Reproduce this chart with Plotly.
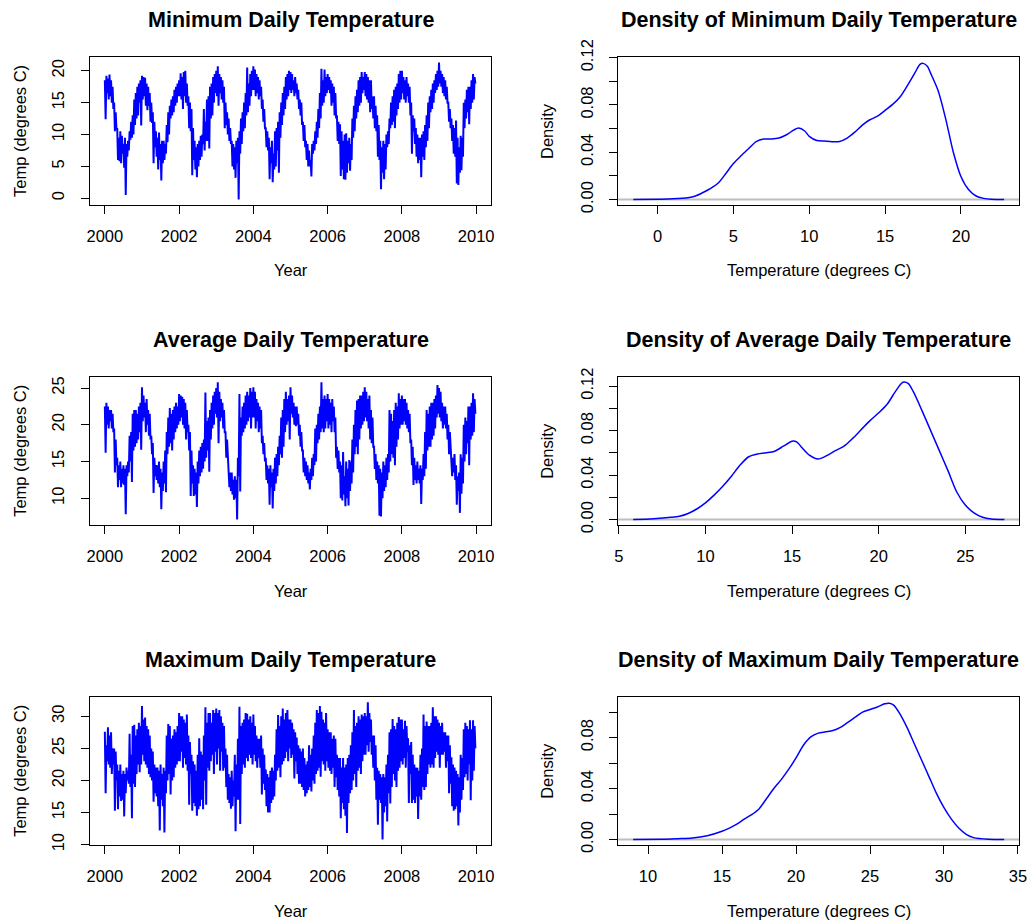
import numpy as np
import plotly.graph_objects as go

# ---------------- data ----------------
years = [2000, 2001, 2002, 2003, 2004, 2005, 2006, 2007, 2008, 2009]
samples_per_year = 48  # 4 readings per month

# Minimum daily temperature (degrees C), 4 readings per month, Jan..Dec
tmin = [
    # 2000
    18.5, 12.4, 19.2, 16.5, 18.8, 15.5, 19.4, 16.0, 18.5, 15.0, 17.5, 14.0,
    15.0, 10.5, 13.5, 10.8, 11.0, 6.0, 9.5, 5.8, 10.5, 5.5, 9.8, 7.0,
    8.5, 4.8, 9.5, 0.5, 8.5, 6.5, 9.0, 7.5, 10.5, 9.2, 12.0, 9.5,
    13.0, 10.0, 15.5, 11.5, 16.5, 12.5, 17.5, 13.0, 18.0, 15.0, 18.5, 11.4,
    # 2001
    19.2, 15.5, 19.0, 16.0, 18.9, 14.5, 18.0, 13.8, 17.5, 14.5, 16.5, 12.0,
    15.0, 11.8, 13.5, 5.5, 12.0, 8.0, 10.5, 6.5, 9.5, 4.5, 10.3, 6.0,
    8.5, 2.8, 9.0, 5.5, 9.0, 6.0, 8.5, 7.0, 11.5, 8.8, 13.5, 10.0,
    14.5, 12.5, 15.5, 13.0, 16.0, 13.5, 17.0, 14.5, 17.5, 15.0, 18.0, 16.0,
    # 2002
    18.5, 16.0, 19.6, 15.5, 19.0, 14.0, 19.8, 16.0, 20.0, 15.0, 18.0, 14.5,
    16.0, 11.0, 15.0, 10.5, 14.0, 3.6, 11.0, 6.0, 9.0, 4.5, 8.0, 3.3,
    8.5, 5.0, 9.0, 6.0, 9.8, 6.5, 10.0, 8.5, 14.0, 7.5, 12.0, 9.0,
    15.5, 9.0, 16.0, 7.8, 17.5, 12.5, 18.0, 13.0, 19.0, 15.0, 19.5, 16.5,
    # 2003
    20.0, 16.0, 20.7, 14.5, 19.5, 16.5, 19.0, 15.5, 18.5, 15.0, 17.5, 11.0,
    15.0, 11.5, 13.5, 10.0, 12.5, 9.0, 11.0, 8.5, 9.0, 5.0, 8.5, 4.5,
    8.0, 3.2, 9.0, 5.5, 9.5, -0.2, 10.5, 7.0, 12.5, 8.5, 13.5, 10.5,
    15.0, 11.0, 16.5, 13.0, 20.5, 13.5, 18.0, 14.5, 19.5, 16.0, 20.0, 17.0,
    # 2004
    20.7, 17.0, 20.2, 16.0, 19.5, 16.5, 19.0, 15.5, 18.5, 16.0, 17.5, 14.0,
    15.5, 12.0, 14.0, 11.0, 11.0, 8.0, 10.5, 7.5, 9.5, 3.0, 8.0, 5.5,
    9.0, 2.5, 7.0, 4.5, 10.5, 5.0, 11.0, 7.5, 12.0, 4.0, 13.5, 9.5,
    15.0, 11.5, 16.5, 13.0, 17.5, 14.0, 19.0, 15.5, 19.5, 16.0, 20.0, 17.0,
    # 2005
    19.8, 16.5, 19.5, 17.0, 18.5, 16.0, 19.0, 16.5, 18.0, 15.5, 17.0, 14.0,
    15.5, 13.0, 15.0, 11.5, 12.0, 9.0, 11.5, 8.0, 9.0, 6.0, 8.5, 5.0,
    7.5, 5.0, 6.0, 3.4, 8.5, 7.0, 9.0, 7.5, 10.5, 8.5, 12.0, 9.5,
    14.0, 11.0, 16.5, 12.5, 20.3, 14.5, 18.5, 15.0, 20.2, 16.0, 19.0, 16.5,
    # 2006
    19.5, 17.0, 19.0, 16.5, 18.5, 14.5, 18.0, 15.0, 17.5, 13.0, 16.5, 12.5,
    13.0, 9.0, 12.0, 8.5, 11.6, 3.5, 10.5, 4.5, 9.0, 3.0, 10.0, 2.9,
    10.2, 4.0, 9.0, 5.5, 9.5, 4.3, 8.5, 6.0, 12.5, 9.5, 14.5, 10.5,
    16.0, 12.5, 17.0, 13.5, 18.5, 14.5, 19.0, 15.0, 19.8, 16.5, 19.0, 17.0,
    # 2007
    19.8, 16.0, 19.5, 15.5, 19.0, 15.0, 18.5, 13.5, 18.5, 14.0, 16.0, 12.5,
    16.0, 11.0, 14.5, 10.5, 13.0, 6.5, 11.5, 6.0, 9.0, 1.4, 8.0, 4.0,
    9.0, 3.0, 8.5, 4.5, 10.0, 8.0, 10.5, 8.5, 12.5, 11.0, 15.0, 11.5,
    16.0, 12.0, 17.0, 11.0, 17.5, 13.0, 18.0, 14.0, 19.5, 15.0, 20.0, 15.5,
    # 2008
    20.0, 16.5, 19.0, 15.5, 18.5, 15.0, 19.0, 16.0, 18.0, 15.0, 17.5, 13.0,
    15.0, 7.0, 13.0, 10.5, 12.5, 8.5, 11.0, 6.5, 10.0, 5.5, 9.5, 6.0,
    9.5, 3.3, 10.0, 6.5, 10.5, 6.0, 11.5, 8.0, 13.0, 9.0, 15.0, 11.0,
    16.0, 13.5, 17.0, 14.0, 18.0, 15.0, 18.5, 16.5, 19.5, 17.0, 20.0, 17.5,
    # 2009
    21.3, 18.0, 20.0, 17.5, 19.5, 16.5, 19.0, 16.0, 18.5, 15.5, 17.5, 15.0,
    15.0, 12.0, 14.0, 11.0, 12.5, 9.0, 11.5, 7.0, 11.0, 6.5, 12.2, 2.3,
    9.5, 2.1, 8.0, 4.0, 9.8, 4.4, 9.5, 6.5, 15.0, 11.0, 15.5, 12.5,
    17.0, 13.5, 17.5, 11.6, 17.5, 14.0, 18.5, 15.0, 19.5, 15.5, 19.0, 18.0,
]

# Average daily temperature (degrees C)
tavg = [
    # 2000
    22.5, 16.2, 23.0, 20.0, 22.5, 19.5, 22.0, 20.5, 22.0, 19.5, 21.5, 19.0,
    19.5, 13.5, 18.0, 14.5, 15.5, 11.5, 14.5, 12.5, 15.0, 11.5, 14.0, 12.0,
    14.5, 11.8, 14.0, 7.8, 14.5, 13.0, 15.0, 13.5, 18.5, 15.0, 19.0, 12.2,
    21.5, 16.5, 22.0, 17.0, 22.0, 17.5, 21.5, 18.0, 22.5, 19.0, 23.0, 16.6,
    # 2001
    25.1, 20.5, 24.0, 21.0, 23.0, 19.0, 23.5, 20.0, 22.0, 18.5, 21.5, 18.0,
    18.5, 16.0, 17.5, 10.7, 15.5, 13.0, 14.5, 12.5, 14.5, 12.0, 15.0, 11.5,
    14.0, 8.5, 13.5, 11.0, 15.0, 12.0, 16.5, 10.8, 19.0, 16.0, 21.0, 17.0,
    22.3, 17.5, 21.5, 16.5, 22.0, 18.0, 22.5, 19.0, 23.0, 19.5, 22.5, 20.0,
    # 2002
    24.2, 20.5, 24.0, 21.0, 23.8, 20.0, 23.5, 19.5, 23.0, 18.0, 22.0, 19.0,
    20.0, 16.5, 19.0, 10.3, 16.5, 12.0, 14.5, 10.3, 14.0, 10.5, 13.5, 8.8,
    15.0, 12.0, 16.5, 13.0, 17.0, 13.5, 17.5, 14.0, 18.0, 15.0, 24.4, 15.5,
    20.5, 16.5, 21.0, 13.6, 22.0, 18.0, 23.0, 19.5, 24.0, 20.0, 24.5, 21.5,
    # 2003
    25.0, 21.0, 25.8, 17.5, 24.5, 20.5, 23.5, 21.0, 23.0, 19.5, 22.0, 19.0,
    19.0, 15.5, 18.0, 15.0, 14.5, 11.5, 13.5, 11.0, 13.5, 10.5, 12.5, 9.8,
    13.0, 10.0, 12.5, 7.1, 15.5, 13.0, 24.2, 10.9, 21.0, 18.5, 22.5, 19.0,
    23.0, 19.5, 24.0, 20.0, 24.5, 20.5, 24.0, 21.0, 25.0, 19.5, 24.5, 21.0,
    # 2004
    25.1, 21.0, 24.5, 19.5, 23.5, 20.5, 23.0, 19.0, 22.5, 19.5, 22.0, 17.5,
    18.5, 16.0, 17.5, 15.0, 15.5, 12.5, 14.5, 12.0, 14.0, 9.1, 14.5, 11.5,
    13.5, 8.6, 14.0, 11.0, 15.5, 12.0, 16.0, 13.0, 17.0, 14.5, 18.5, 16.0,
    21.0, 15.5, 22.0, 17.0, 23.5, 19.0, 24.5, 20.0, 23.5, 20.5, 24.0, 18.0,
    # 2005
    25.1, 21.5, 24.0, 21.0, 23.0, 20.0, 22.5, 19.8, 22.5, 20.0, 21.5, 18.5,
    20.0, 17.0, 19.0, 16.5, 16.5, 13.5, 15.5, 13.0, 15.0, 12.5, 14.5, 12.0,
    13.5, 11.2, 14.0, 12.5, 15.5, 13.0, 16.0, 14.5, 19.5, 15.0, 20.0, 17.5,
    21.5, 18.0, 22.5, 19.0, 25.8, 19.5, 23.5, 19.0, 24.0, 19.5, 23.5, 20.5,
    # 2006
    24.2, 19.5, 23.5, 20.0, 23.0, 19.0, 23.5, 20.5, 22.5, 19.0, 21.0, 15.5,
    17.0, 14.0, 16.5, 13.5, 15.0, 10.0, 14.5, 9.7, 16.3, 10.5, 13.0, 8.9,
    15.0, 10.0, 14.0, 9.0, 15.2, 11.0, 15.0, 12.0, 18.0, 13.5, 20.0, 16.0,
    22.0, 17.0, 23.3, 16.0, 23.5, 18.0, 24.0, 19.5, 24.0, 20.0, 24.5, 20.5,
    # 2007
    25.1, 21.0, 24.5, 20.5, 23.5, 19.5, 24.0, 18.0, 22.0, 17.5, 21.0, 17.0,
    17.0, 14.0, 16.0, 12.5, 15.0, 12.0, 14.5, 7.6, 14.0, 7.5, 13.5, 10.0,
    15.0, 11.0, 14.5, 11.5, 15.5, 12.5, 16.0, 13.5, 22.0, 15.0, 21.5, 16.0,
    20.5, 15.5, 22.0, 14.5, 23.0, 17.0, 22.5, 18.0, 24.3, 19.5, 23.5, 20.0,
    # 2008
    24.0, 20.0, 23.5, 20.5, 23.5, 20.0, 23.0, 19.5, 22.0, 19.0, 21.5, 17.5,
    18.0, 14.5, 17.0, 11.8, 15.5, 12.5, 14.5, 12.0, 15.0, 12.5, 14.0, 12.0,
    14.5, 9.2, 14.0, 12.5, 16.0, 13.0, 19.0, 14.0, 22.0, 16.5, 21.5, 17.0,
    22.5, 17.0, 23.0, 18.0, 23.0, 18.5, 23.5, 19.5, 24.0, 21.0, 25.4, 21.5,
    # 2009
    25.0, 21.0, 24.5, 20.5, 23.0, 19.5, 22.5, 20.0, 22.5, 19.5, 21.5, 18.0,
    20.0, 16.0, 19.0, 16.5, 16.0, 13.0, 15.5, 13.5, 16.0, 12.5, 14.5, 9.1,
    13.0, 11.0, 13.5, 8.0, 16.0, 10.6, 15.5, 12.0, 20.0, 15.0, 21.0, 16.0,
    20.5, 17.5, 22.5, 14.5, 22.5, 18.0, 23.0, 18.5, 24.3, 19.0, 23.5, 21.5,
]

# Maximum daily temperature (degrees C)
tmax = [
    # 2000
    27.6, 18.0, 25.5, 23.0, 28.3, 22.5, 27.0, 22.0, 27.5, 21.0, 25.0, 22.5,
    25.0, 15.3, 24.5, 20.0, 22.5, 15.5, 21.5, 17.5, 22.5, 16.8, 21.0, 17.0,
    21.5, 14.4, 21.0, 18.0, 22.0, 20.0, 21.5, 19.5, 27.3, 19.0, 24.0, 14.1,
    28.5, 19.5, 28.7, 19.0, 27.0, 21.0, 28.0, 22.5, 29.0, 21.3, 28.5, 22.5,
    # 2001
    31.6, 24.0, 29.5, 23.0, 29.8, 22.5, 28.5, 22.0, 28.0, 21.0, 27.0, 20.5,
    25.0, 20.0, 24.5, 16.7, 22.5, 18.0, 22.0, 17.5, 22.0, 16.0, 21.5, 12.2,
    22.5, 17.0, 21.0, 16.0, 22.0, 11.9, 21.5, 18.0, 27.0, 20.0, 28.8, 21.0,
    28.5, 17.8, 26.5, 20.0, 27.0, 20.5, 28.0, 22.0, 27.5, 22.5, 28.5, 23.0,
    # 2002
    30.5, 23.0, 30.0, 24.5, 30.0, 22.0, 29.5, 23.5, 29.0, 22.5, 30.3, 21.5,
    27.0, 16.2, 26.0, 21.0, 24.0, 15.3, 23.0, 16.5, 22.5, 16.0, 21.5, 14.5,
    24.0, 15.5, 26.6, 16.0, 24.5, 17.0, 24.0, 15.5, 27.0, 20.0, 31.4, 16.2,
    29.0, 22.0, 30.5, 21.5, 30.5, 23.0, 29.0, 24.0, 31.0, 21.0, 30.5, 24.5,
    # 2003
    31.2, 22.5, 30.5, 25.0, 31.0, 21.5, 30.0, 24.5, 29.0, 21.5, 28.5, 22.0,
    25.0, 19.0, 24.0, 17.0, 21.0, 16.5, 20.5, 15.6, 21.5, 16.0, 20.0, 17.5,
    24.0, 12.1, 22.5, 17.0, 26.5, 17.0, 31.5, 13.2, 28.5, 21.0, 29.0, 22.5,
    29.5, 22.0, 30.5, 23.5, 30.4, 23.0, 29.5, 24.0, 30.0, 23.5, 29.0, 22.5,
    # 2004
    30.3, 24.0, 28.5, 23.0, 27.0, 22.0, 26.5, 23.5, 26.5, 22.0, 27.0, 17.8,
    25.0, 19.5, 24.0, 18.5, 21.7, 16.0, 21.0, 15.0, 20.5, 15.0, 21.5, 16.5,
    22.0, 17.0, 21.5, 17.5, 24.0, 20.0, 28.0, 21.5, 30.2, 22.0, 28.5, 20.5,
    30.0, 22.5, 31.2, 23.0, 29.5, 23.5, 30.5, 24.5, 31.0, 23.0, 29.5, 25.0,
    # 2005
    29.5, 23.5, 29.0, 24.0, 28.0, 20.3, 27.5, 23.0, 26.7, 21.0, 25.5, 19.5,
    25.0, 19.5, 24.5, 19.0, 25.0, 18.5, 23.5, 17.5, 22.5, 18.0, 23.0, 18.5,
    25.5, 19.0, 24.0, 18.3, 25.0, 20.0, 27.0, 19.5, 29.0, 21.0, 31.0, 21.5,
    30.5, 22.0, 31.6, 20.6, 30.7, 23.0, 29.5, 22.5, 29.0, 21.5, 30.5, 23.0,
    # 2006
    28.0, 22.0, 27.5, 21.5, 27.5, 21.0, 26.5, 22.0, 27.0, 19.0, 26.5, 20.5,
    24.0, 18.5, 23.5, 17.5, 23.5, 14.1, 22.0, 16.5, 23.5, 15.5, 22.0, 14.5,
    22.5, 11.8, 23.5, 16.5, 24.0, 18.0, 25.5, 18.5, 27.5, 20.0, 31.0, 21.0,
    28.5, 19.0, 29.0, 21.5, 30.0, 22.0, 29.5, 21.0, 30.3, 23.0, 30.0, 24.0,
    # 2007
    30.5, 24.0, 30.0, 25.5, 32.2, 24.5, 30.5, 26.0, 29.5, 24.0, 27.0, 22.0,
    27.0, 20.0, 25.5, 17.0, 22.0, 13.1, 21.5, 17.0, 21.0, 16.5, 20.5, 10.8,
    21.0, 15.0, 20.5, 16.0, 22.5, 13.6, 24.0, 18.0, 27.5, 16.4, 28.0, 19.0,
    29.6, 21.0, 28.5, 20.0, 28.0, 19.0, 29.0, 21.5, 29.9, 22.0, 29.5, 23.0,
    # 2008
    29.5, 22.5, 28.0, 23.5, 29.3, 22.0, 28.5, 24.5, 26.6, 16.5, 25.5, 21.0,
    26.0, 16.5, 24.0, 17.0, 22.5, 16.5, 22.0, 17.5, 22.0, 14.0, 21.5, 17.5,
    24.0, 17.0, 25.0, 19.0, 30.3, 18.5, 28.5, 19.0, 29.2, 21.0, 28.5, 22.5,
    28.5, 22.0, 29.0, 22.5, 31.4, 22.0, 30.0, 23.5, 30.0, 24.5, 29.5, 24.0,
    # 2009
    29.0, 22.0, 28.5, 24.0, 29.0, 24.0, 27.5, 24.5, 27.5, 22.0, 27.0, 23.0,
    27.0, 18.0, 25.5, 19.5, 23.6, 16.0, 22.5, 15.3, 22.0, 15.5, 21.5, 16.0,
    21.0, 13.0, 20.5, 15.0, 24.0, 17.0, 23.5, 18.5, 28.0, 20.5, 29.0, 21.0,
    28.5, 20.0, 28.0, 22.5, 29.4, 16.9, 28.0, 20.0, 29.4, 21.5, 28.5, 25.0,
]

# Kernel density curves
dmin_x = [-1.6, 0, 1, 2, 2.5, 3, 3.5, 4, 4.5, 5, 5.5, 6, 6.5, 7, 7.5, 8, 8.5, 9, 9.3,
          9.7, 10, 10.5, 11, 11.5, 12, 12.5, 13, 13.5, 14, 14.5, 15, 15.5, 16, 16.5,
          17, 17.3, 17.5, 17.8, 18, 18.5, 19, 19.5, 20, 20.5, 21, 21.5, 22, 22.85]
dmin_y = [0.0, 0.0003, 0.0006, 0.0015, 0.003, 0.006, 0.0095, 0.014, 0.022, 0.0305,
          0.037, 0.043, 0.049, 0.0512, 0.0512, 0.052, 0.0548, 0.059, 0.0605,
          0.058, 0.0535, 0.0500, 0.0495, 0.0490, 0.0492, 0.052, 0.057, 0.063, 0.0675,
          0.0705, 0.0755, 0.0805, 0.087, 0.097, 0.108, 0.1143, 0.1152, 0.1125, 0.107,
          0.092, 0.068, 0.040, 0.0195, 0.0085, 0.003, 0.001, 0.0002, 0.0]

davg_x = [5.83, 7, 8, 8.5, 9, 9.5, 10, 10.5, 11, 11.5, 12, 12.5, 13, 13.5, 14, 14.5,
          15, 15.3, 15.5, 16, 16.5, 17, 17.5, 18, 18.5, 19, 19.5, 20, 20.5, 21, 21.4,
          21.7, 22, 22.5, 23, 23.5, 24, 24.5, 25, 25.5, 26, 26.5, 27.26]
davg_y = [0.0, 0.0008, 0.002, 0.003, 0.0055, 0.0095, 0.015, 0.022, 0.030, 0.039,
          0.049, 0.0565, 0.059, 0.060, 0.0615, 0.066, 0.0705, 0.0695, 0.066, 0.058,
          0.0545, 0.0575, 0.062, 0.066, 0.073, 0.081, 0.089, 0.096, 0.104, 0.116,
          0.1235, 0.1225, 0.115, 0.098, 0.080, 0.062, 0.044, 0.025, 0.013, 0.006,
          0.002, 0.0005, 0.0]

dmax_x = [8.99, 11, 12, 13, 14, 15, 15.5, 16, 16.5, 17, 17.5, 18, 18.5, 19, 19.5, 20,
          20.5, 21, 21.5, 22, 22.5, 23, 23.5, 24, 24.5, 25, 25.5, 26, 26.3, 26.6, 27,
          27.5, 28, 28.5, 29, 29.5, 30, 30.5, 31, 31.5, 32, 33, 34.07]
dmax_y = [0.0, 0.0003, 0.0007, 0.0012, 0.003, 0.0065, 0.009, 0.012, 0.016, 0.0195,
          0.024, 0.032, 0.040, 0.047, 0.055, 0.064, 0.074, 0.0805, 0.0835, 0.0845,
          0.0855, 0.088, 0.092, 0.096, 0.100, 0.102, 0.104, 0.1065, 0.107, 0.1055,
          0.099, 0.088, 0.075, 0.062, 0.049, 0.036, 0.025, 0.016, 0.009, 0.004,
          0.0015, 0.0002, 0.0]

titles = ["Minimum Daily Temperature", "Density of Minimum Daily Temperature",
          "Average Daily Temperature", "Density of Average Daily Temperature",
          "Maximum Daily Temperature", "Density of Maximum Daily Temperature"]

# ---------------- figure ----------------
W, H = 1031, 920
FONT = "Liberation Sans, Arial, Helvetica, sans-serif"
BLUE = "#0000FF"

t = np.array([y + i / samples_per_year for y in years for i in range(samples_per_year)])

def xd(px):
    return px / W

def yd(py):
    return 1 - py / H

cols = [(90, 491), (618.3, 1019)]
rows = [(57, 205), (376.7, 525), (696.7, 845)]
title_y = [20, 340, 660]
xlabel_y = [270, 591, 911]

fig = go.Figure()

series = [tmin, tavg, tmax]
dens = [(dmin_x, dmin_y), (davg_x, davg_y), (dmax_x, dmax_y)]

ts_ranges = [[-1.06, 22.16], [6.35, 26.55], [9.94, 33.06]]
ts_ticks = [[0, 5, 10, 15, 20], [10, 15, 20, 25], [10, 15, 20, 25, 30]]
d_xranges = [[-2.59, 23.83], [4.97, 28.1], [7.99, 35.07]]
d_xticks = [[0, 5, 10, 15, 20], [5, 10, 15, 20, 25], [10, 15, 20, 25, 30, 35]]
d_yranges = [[-0.0046, 0.1206], [-0.0049, 0.1285], [-0.0043, 0.1121]]
d_yticks = [[0, 0.02, 0.04, 0.06, 0.08, 0.10, 0.12],
            [0, 0.02, 0.04, 0.06, 0.08, 0.10, 0.12],
            [0, 0.02, 0.04, 0.06, 0.08, 0.10]]

axis_common = dict(showline=True, mirror=True, linecolor="black", linewidth=1,
                   ticks="outside", ticklen=8, tickcolor="black", tickwidth=1,
                   showgrid=False, zeroline=False, automargin=False,
                   tickfont=dict(family=FONT, size=16.5, color="black"))

annotations = []
shapes = []
for r in range(3):
    for c in range(2):
        k = r * 2 + c + 1
        xa = "xaxis" if k == 1 else f"xaxis{k}"
        ya = "yaxis" if k == 1 else f"yaxis{k}"
        xr = "x" if k == 1 else f"x{k}"
        yr = "y" if k == 1 else f"y{k}"
        x0, x1 = cols[c]
        y0, y1 = rows[r]
        if c == 0:
            fig.add_trace(go.Scatter(x=t, y=series[r], mode="lines",
                                     line=dict(color=BLUE, width=2),
                                     xaxis=xr, yaxis=yr, showlegend=False,
                                     hoverinfo="skip"))
            fig.update_layout({
                xa: dict(axis_common, domain=[xd(x0), xd(x1)], anchor=yr,
                         range=[1999.6, 2010.4], tickvals=[2000, 2002, 2004, 2006, 2008, 2010],
                         ticklabelstandoff=8),
                ya: dict(axis_common, domain=[yd(y1), yd(y0)], anchor=xr,
                         range=ts_ranges[r], tickvals=ts_ticks[r], tickangle=-90,
                         ticklabelstandoff=10),
            })
            xlabel, ylabel, ylab_x = "Year", "Temp (degrees C)", 20
        else:
            dx, dy = dens[r]
            shapes.append(dict(type="line", xref=f"{xr} domain", yref=yr,
                               x0=0, x1=1, y0=0, y1=0, layer="below",
                               line=dict(color="#BEBEBE", width=2)))
            fig.add_trace(go.Scatter(x=dx, y=dy, mode="lines",
                                     line=dict(color=BLUE, width=1.5, shape="spline",
                                               smoothing=0.8),
                                     xaxis=xr, yaxis=yr, showlegend=False,
                                     hoverinfo="skip"))
            yt = d_yticks[r]
            ytext = [f"{v:.2f}" if i % 2 == 0 else "" for i, v in enumerate(yt)]
            fig.update_layout({
                xa: dict(axis_common, domain=[xd(x0), xd(x1)], anchor=yr,
                         range=d_xranges[r], tickvals=d_xticks[r],
                         ticklabelstandoff=8),
                ya: dict(axis_common, domain=[yd(y1), yd(y0)], anchor=xr,
                         range=d_yranges[r], tickvals=yt, ticktext=ytext,
                         tickangle=-90, ticklabelstandoff=10),
            })
            xlabel, ylabel, ylab_x = "Temperature (degrees C)", "Density", 547
        annotations.append(dict(text=f"<b>{titles[k - 1]}</b>", xref="paper", yref="paper",
                                x=xd((x0 + x1) / 2), y=yd(title_y[r]),
                                xanchor="center", yanchor="middle", showarrow=False,
                                font=dict(family=FONT, size=21.5, color="black")))
        annotations.append(dict(text=xlabel, xref="paper", yref="paper",
                                x=xd((x0 + x1) / 2), y=yd(xlabel_y[r]),
                                xanchor="center", yanchor="middle", showarrow=False,
                                font=dict(family=FONT, size=16.5, color="black")))
        annotations.append(dict(text=ylabel, xref="paper", yref="paper",
                                x=xd(ylab_x), y=yd((y0 + y1) / 2), textangle=-90,
                                xanchor="center", yanchor="middle", showarrow=False,
                                font=dict(family=FONT, size=16.5, color="black")))

fig.update_layout(width=W, height=H,
                  margin=dict(l=0, r=0, t=0, b=0, pad=0, autoexpand=False),
                  paper_bgcolor="white", plot_bgcolor="white",
                  annotations=annotations, shapes=shapes,
                  font=dict(family=FONT, color="black"))

fig.write_html("out.html")
